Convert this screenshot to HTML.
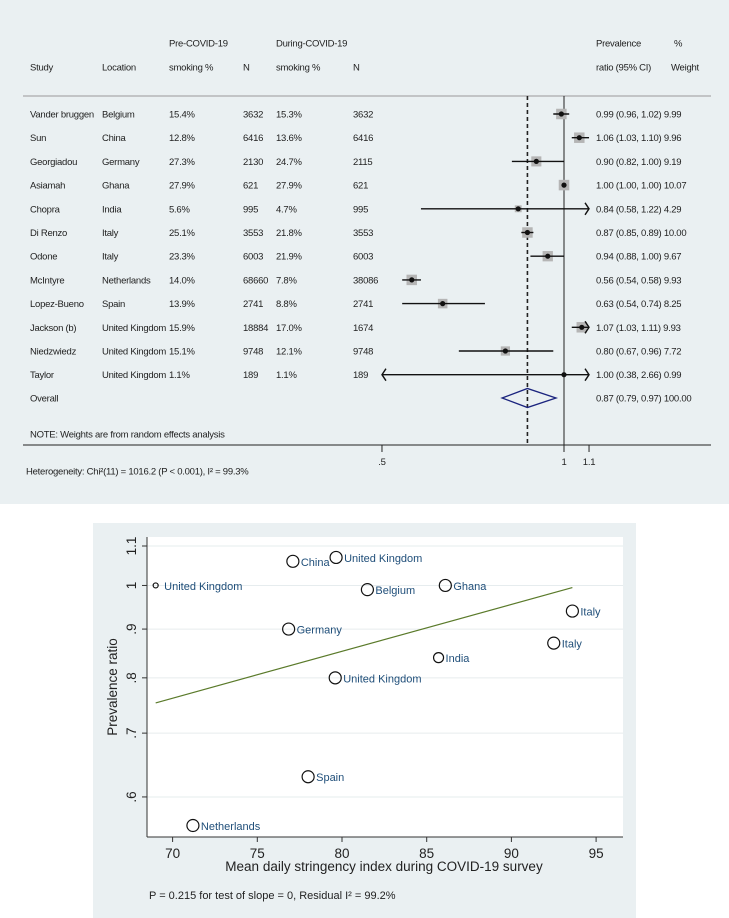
<!DOCTYPE html>
<html><head><meta charset="utf-8"><style>
body{margin:0;width:729px;height:918px;background:#fff;font-family:"Liberation Sans",sans-serif;overflow:hidden}
svg{display:block}
</style></head><body>
<svg width="729" height="918" font-family="Liberation Sans, sans-serif">
<rect x="0" y="0" width="729" height="504" fill="#eaf0f2"/>
<g id="forest" font-size="9.5" fill="#222" letter-spacing="-0.25"></g>
<rect x="93" y="523" width="543" height="395" fill="#eaf0f2"/>
<rect x="147" y="537" width="476" height="300" fill="#fff"/>
<g id="scatter"></g>
</svg>
<script>
const NS='http://www.w3.org/2000/svg';
function mk(p,t,a,txt){const e=document.createElementNS(NS,t);for(const k in a)e.setAttribute(k,a[k]);if(txt!==undefined)e.textContent=txt;p.appendChild(e);return e;}
// ---- forest data ----
const studies=['Vander bruggen','Sun','Georgiadou','Asiamah','Chopra','Di Renzo','Odone','McIntyre','Lopez-Bueno','Jackson (b)','Niedzwiedz','Taylor'];
const locations=['Belgium','China','Germany','Ghana','India','Italy','Italy','Netherlands','Spain','United Kingdom','United Kingdom','United Kingdom'];
const preSmoking=['15.4%','12.8%','27.3%','27.9%','5.6%','25.1%','23.3%','14.0%','13.9%','15.9%','15.1%','1.1%'];
const preN=['3632','6416','2130','621','995','3553','6003','68660','2741','18884','9748','189'];
const durSmoking=['15.3%','13.6%','24.7%','27.9%','4.7%','21.8%','21.9%','7.8%','8.8%','17.0%','12.1%','1.1%'];
const durN=['3632','6416','2115','621','995','3553','6003','38086','2741','1674','9748','189'];
const pr=[0.99,1.06,0.90,1.00,0.84,0.87,0.94,0.56,0.63,1.07,0.80,1.00];
const lo=[0.96,1.03,0.82,1.00,0.58,0.85,0.88,0.54,0.54,1.03,0.67,0.38];
const hi=[1.02,1.10,1.00,1.00,1.22,0.89,1.00,0.58,0.74,1.11,0.96,2.66];
const weights=[9.99,9.96,9.19,10.07,4.29,10.00,9.67,9.93,8.25,9.93,7.72,0.99];
const overall=[0.87,0.79,0.97];
const forestTicks=[0.5,1,1.1];
const forestTickLabels=['.5','1','1.1'];
const fx=v=>564+262.6*Math.log(v);
const fmin=0.5, fmax=1.1;
const f=document.getElementById('forest');
const hdr=[[169,43,'Pre-COVID-19'],[276,43,'During-COVID-19'],[596,43,'Prevalence'],[674,43,'%'],[30,67,'Study'],[102,67,'Location'],[169,67,'smoking %'],[243,67,'N'],[276,67,'smoking %'],[353,67,'N'],[596,67,'ratio (95% CI)'],[671,67,'Weight']];
hdr.forEach(h=>{const t=mk(f,'text',{x:h[0],y:h[1]+3.5},h[2]);});
let l=mk(f,'line',{x1:23,x2:711,y1:96,y2:96,stroke:'#999','stroke-width':1});
l=mk(f,'line',{x1:fx(1),x2:fx(1),y1:96,y2:445,stroke:'#222','stroke-width':1});
l=mk(f,'line',{x1:fx(overall[0]),x2:fx(overall[0]),y1:96,y2:445,stroke:'#222','stroke-width':1.6,'stroke-dasharray':'4,3'});
studies.forEach((s,i)=>{
 const y=114+i*23.7;
 const g=mk(f,'g',{});
 [[30,s],[102,locations[i]],[169,preSmoking[i]],[243,preN[i]],[276,durSmoking[i]],[353,durN[i]]].forEach(c=>mk(g,'text',{x:c[0],y:y+3.5},c[1]));
 mk(g,'text',{x:596,y:y+3.5},pr[i].toFixed(2)+' ('+lo[i].toFixed(2)+', '+hi[i].toFixed(2)+') '+weights[i].toFixed(2));
 const sz=Math.sqrt(weights[i]/10)*10.5;
 const sq=mk(g,'rect',{x:fx(pr[i])-sz/2,y:y-sz/2,width:sz,height:sz,fill:'#b5b5b5'});
 const a=fx(Math.max(lo[i],fmin)),b=fx(Math.min(hi[i],fmax));
 const ci=mk(g,'line',{x1:a,x2:b,y1:y,y2:y,stroke:'#111','stroke-width':1.4});
 if(hi[i]>fmax)mk(g,'path',{d:`M${b-4},${y-6} L${b},${y} L${b-4},${y+6}`,fill:'none',stroke:'#111','stroke-width':1.4});
 if(lo[i]<fmin)mk(g,'path',{d:`M${a+4},${y-6} L${a},${y} L${a+4},${y+6}`,fill:'none',stroke:'#111','stroke-width':1.4});
 mk(g,'circle',{cx:fx(pr[i]),cy:y,r:2.6,fill:'#111'});
});
const oy=398;
let t=mk(f,'text',{x:30,y:oy+3.5},'Overall');
mk(f,'text',{x:596,y:oy+3.5},overall[0].toFixed(2)+' ('+overall[1].toFixed(2)+', '+overall[2].toFixed(2)+') 100.00');
l=mk(f,'path',{d:`M${fx(overall[1])},${oy} L${fx(overall[0])},${oy-9.5} L${fx(overall[2])},${oy} L${fx(overall[0])},${oy+9.5} Z`,fill:'none',stroke:'#1a237e','stroke-width':1.3});
t=mk(f,'text',{x:30,y:437.5},'NOTE: Weights are from random effects analysis');
l=mk(f,'line',{x1:23,x2:711,y1:445,y2:445,stroke:'#222','stroke-width':1});
forestTicks.forEach((v,i)=>{mk(f,'line',{x1:fx(v),x2:fx(v),y1:445,y2:452,stroke:'#222'});const tt=mk(f,'text',{x:fx(v),y:465,'text-anchor':'middle'},forestTickLabels[i]);});
t=mk(f,'text',{x:26,y:474.5},'Heterogeneity: Chi²(11) = 1016.2 (P < 0.001), I² = 99.3%');

// ---- meta-regression data ----
const countries=['United Kingdom','China','United Kingdom','Belgium','Ghana','Italy','Germany','Italy','India','United Kingdom','Spain','Netherlands'];
const stringency=[69.0,77.1,79.65,81.5,86.1,93.6,76.85,92.5,85.7,79.6,78.0,71.2];
const ratio=[1.00,1.06,1.07,0.99,1.00,0.94,0.90,0.87,0.84,0.80,0.63,0.56];
const radii=[2.5,6,6,6,6,6,6,6,5,6,6,6];
const fitX=[69.0,93.6];
const fitY=[0.753,0.995];
const xTicks=[70,75,80,85,90,95];
const yTicks=[0.6,0.7,0.8,0.9,1.0,1.1];
const yTickLabels=['.6','.7','.8','.9','1','1.1'];
const sx=v=>172.6+(v-70)*16.94;
const sy=v=>546-414*(Math.log(v)-Math.log(1.1));
const s=document.getElementById('scatter');
yTicks.forEach((v,i)=>{
 mk(s,'line',{x1:147,x2:623,y1:sy(v),y2:sy(v),stroke:'#e6ecee'});
 mk(s,'line',{x1:142,x2:147,y1:sy(v),y2:sy(v),stroke:'#333'});
 const tt=mk(s,'text',{x:136,y:sy(v),'text-anchor':'middle','font-size':13.5,fill:'#222',transform:`rotate(-90 136 ${sy(v)})`},yTickLabels[i]);
});
l=mk(s,'line',{x1:147,x2:147,y1:537,y2:837,stroke:'#333'});
l=mk(s,'line',{x1:147,x2:623,y1:837,y2:837,stroke:'#333'});
xTicks.forEach(v=>{mk(s,'line',{x1:sx(v),x2:sx(v),y1:837,y2:842,stroke:'#333'});const tt=mk(s,'text',{x:sx(v),y:858,'text-anchor':'middle','font-size':13.5,fill:'#222'},String(v));});
l=mk(s,'line',{x1:sx(fitX[0]),y1:sy(fitY[0]),x2:sx(fitX[1]),y2:sy(fitY[1]),stroke:'#5a7a2a','stroke-width':1.2});
countries.forEach((c,i)=>{
 const cx=sx(stringency[i]),cy=sy(ratio[i]);
 const p=mk(s,'circle',{cx:cx,cy:cy,r:radii[i],fill:'none',stroke:'#111','stroke-width':1.2});
 
 
 const lb=mk(s,'text',{x:cx+radii[i]+(i==0?6:2),y:cy+4.5,'font-size':11,fill:'#1f4e79'},c);
 
 
});
t=mk(s,'text',{x:117,y:687,'text-anchor':'middle','font-size':13.5,fill:'#222',transform:'rotate(-90 117 687)'},'Prevalence ratio');
t=mk(s,'text',{x:384,y:871,'text-anchor':'middle','font-size':13.5,fill:'#222'},'Mean daily stringency index during COVID-19 survey');
t=mk(s,'text',{x:149,y:899,'font-size':11,fill:'#222'},'P = 0.215 for test of slope = 0, Residual I² = 99.2%');
</script>
</body></html>
